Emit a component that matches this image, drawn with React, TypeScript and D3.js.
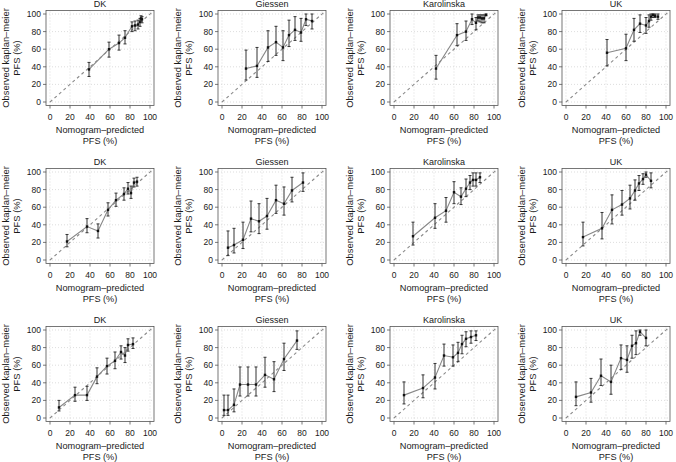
import React from "react";
import * as d3 from "d3";

// each row: [nomogram-predicted, observed KM, lower CI, upper CI] (PFS %)
const dkA = [[39,37,29,45],[59,60,51,68],[69,67,59,76],[75,73,66,81],[82,86,80,91],[85,87,81,92],[88,88,83,93],[90,91,86,95],[91,95,92,98],[92,94,90,97]];
const giessenA = [[24,38,25,59],[35,41,28,62],[46,62,46,81],[54,68,53,86],[61,62,47,81],[67,76,63,93],[73,82,70,97],[79,79,69,95],[84,94,87,100],[90,92,83,100]];
const karolinskaA = [[42,38,26,53],[63,76,64,89],[72,80,70,92],[78,94,88,100],[82,90,82,96],[84,96,92,99],[86,96,91,99],[88,95,90,99],[90,95,90,99],[92,99,98,100]];
const ukA = [[41,56,41,71],[60,61,47,77],[68,82,69,95],[74,89,79,99],[80,87,78,96],[83,92,85,99],[85,97,93,100],[87,99,96,100],[89,98,96,100],[92,97,94,100]];

const dkB = [[17,21,15,29],[37,38,31,47],[48,33,25,41],[58,57,50,65],[66,68,61,76],[74,75,68,82],[78,81,75,88],[81,76,70,84],[84,88,83,93],[87,89,84,94]];
const giessenB = [[6,14,5,33],[12,17,8,36],[21,23,13,43],[29,47,32,67],[37,44,30,64],[45,50,35,70],[54,68,53,85],[62,64,51,83],[70,79,66,94],[81,88,78,99]];
const karolinskaB = [[19,27,17,43],[41,48,36,64],[52,56,43,71],[60,77,64,89],[67,72,63,82],[72,81,72,92],[76,88,80,96],[79,91,84,99],[82,91,84,99],[86,94,88,99]];
const ukB = [[17,26,16,43],[36,36,24,54],[46,57,41,74],[56,63,51,79],[64,70,58,85],[69,79,68,91],[73,87,79,96],[77,92,86,98],[80,97,94,100],[85,90,82,99]];

const dkC = [[9,12,8,20],[25,26,19,35],[37,26,20,36],[47,47,39,57],[57,59,50,68],[65,65,56,75],[71,75,67,82],[75,71,63,80],[78,83,76,90],[83,84,79,91]];
const giessenC = [[2,9,3,26],[6,9,3,26],[12,15,7,33],[18,38,25,58],[26,38,25,58],[34,38,25,58],[43,49,35,69],[52,44,30,64],[62,67,54,85],[75,88,78,99]];
const karolinskaC = [[10,26,16,41],[29,34,23,49],[41,46,33,62],[50,71,59,84],[59,69,59,83],[64,74,64,86],[68,84,73,94],[72,90,81,98],[77,92,85,99],[82,94,88,99]];
const ukC = [[10,24,14,41],[25,29,18,45],[35,48,37,67],[45,41,27,60],[55,68,55,83],[61,66,52,82],[66,82,68,94],[70,85,72,99],[74,98,94,100],[80,91,82,100]];

const titles = ["DK", "Giessen", "Karolinska", "UK"];
const rows = [
  [dkA, giessenA, karolinskaA, ukA],
  [dkB, giessenB, karolinskaB, ukB],
  [dkC, giessenC, karolinskaC, ukC],
];
const ticks = [0, 20, 40, 60, 80, 100];

const colX0 = [50, 222, 394, 566];
const rowTop = [14, 172, 330];
const W = 100;
const H = 88;
const FONT = "'Liberation Sans', Arial, sans-serif";

function Panel({ data, title, x0, top }: { data: number[][]; title: string; x0: number; top: number }) {
  const x = d3.scaleLinear().domain([0, 100]).range([x0, x0 + W]);
  const y = d3.scaleLinear().domain([0, 100]).range([top + H, top]);
  const [bx0, bx1] = [x(-4), x(104)];
  const [by0, by1] = [y(-4), y(104)];
  const line = d3.line<number[]>().x((d) => x(d[0])).y((d) => y(d[1]));
  const id = `clip-${x0}-${top}`;
  return (
    <g fontFamily={FONT} fill="#1a1a1a">
      <defs>
        <clipPath id={id}>
          <rect x={bx0} y={by1} width={bx1 - bx0} height={by0 - by1} />
        </clipPath>
      </defs>
      {ticks.map((t) => (
        <g key={t}>
          <line x1={x(t)} x2={x(t)} y1={by0} y2={by1} stroke="#d4d4d4" strokeWidth={0.8} strokeDasharray="1,2" />
          <line x1={bx0} x2={bx1} y1={y(t)} y2={y(t)} stroke="#d4d4d4" strokeWidth={0.8} strokeDasharray="1,2" />
        </g>
      ))}
      <line
        x1={x(0)} y1={y(0)} x2={x(104)} y2={y(104)}
        stroke="#8a8a8a" strokeWidth={1.1} strokeDasharray="3,3" clipPath={`url(#${id})`}
      />
      <path d={line(data) ?? ""} fill="none" stroke="#888" strokeWidth={1.1} />
      {data.map((d, i) => (
        <g key={i} stroke="#333" strokeWidth={1}>
          <line x1={x(d[0])} x2={x(d[0])} y1={y(d[2])} y2={y(d[3])} />
          <line x1={x(d[0]) - 1.5} x2={x(d[0]) + 1.5} y1={y(d[2])} y2={y(d[2])} />
          <line x1={x(d[0]) - 1.5} x2={x(d[0]) + 1.5} y1={y(d[3])} y2={y(d[3])} />
          <rect x={x(d[0]) - 1.2} y={y(d[1]) - 1.2} width={2.4} height={2.4} fill="#111" stroke="none" />
        </g>
      ))}
      <rect x={bx0} y={by1} width={bx1 - bx0} height={by0 - by1} fill="none" stroke="#555" strokeWidth={0.8} />
      {ticks.map((t) => (
        <g key={"t" + t}>
          <line x1={bx0} x2={bx0 - 3} y1={y(t)} y2={y(t)} stroke="#555" strokeWidth={0.8} />
          <text x={bx0 - 5} y={y(t) + 3} fontSize={8.5} textAnchor="end">{t}</text>
          <line x1={x(t)} x2={x(t)} y1={by0} y2={by0 + 3} stroke="#555" strokeWidth={0.8} />
          <text x={x(t)} y={by0 + 14} fontSize={8.5} textAnchor="middle">{t}</text>
        </g>
      ))}
      <text x={(bx0 + bx1) / 2} y={by1 - 3} fontSize={9} textAnchor="middle">{title}</text>
      <text x={x(50)} y={top + H + 31} fontSize={9.2} textAnchor="middle">Nomogram–predicted</text>
      <text x={x(50)} y={top + H + 42} fontSize={9.2} textAnchor="middle">PFS (%)</text>
      <text transform={`translate(${x0 - 41},${y(50)}) rotate(-90)`} fontSize={9.4} textAnchor="middle">Observed kaplan–meier</text>
      <text transform={`translate(${x0 - 30},${y(50)}) rotate(-90)`} fontSize={9.4} textAnchor="middle">PFS (%)</text>
    </g>
  );
}

export default function App() {
  return (
    <svg width={676} height={462} style={{ position: "absolute", left: 0, top: 0, background: "#fff" }}>
      {rows.map((r, ri) =>
        r.map((d, ci) => (
          <Panel key={`${ri}-${ci}`} data={d} title={titles[ci]} x0={colX0[ci]} top={rowTop[ri]} />
        ))
      )}
    </svg>
  );
}
